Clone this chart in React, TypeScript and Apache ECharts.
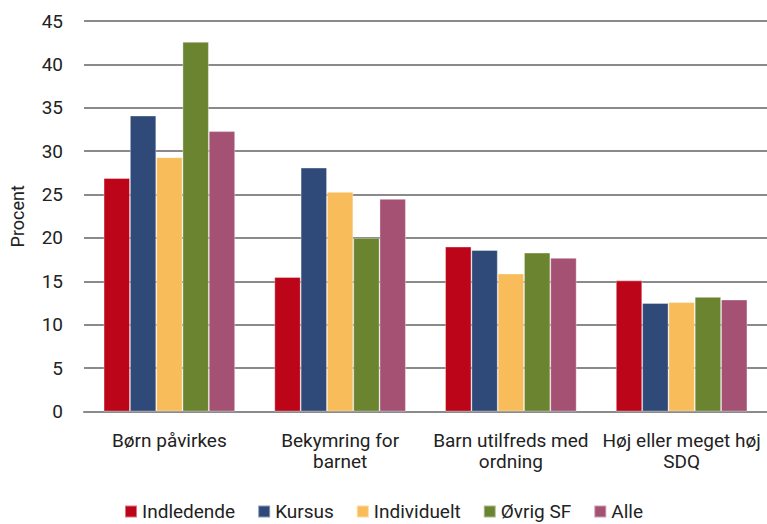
import React, { useEffect, useRef } from "react";
import * as echarts from "echarts";

const categories = [
  "Børn påvirkes",
  "Bekymring for\nbarnet",
  "Barn utilfreds med\nordning",
  "Høj eller meget høj\nSDQ",
];
const seriesNames = ["Indledende", "Kursus", "Individuelt", "Øvrig SF", "Alle"];
const indledende = [26.9, 15.5, 19.0, 15.1];
const kursus = [34.1, 28.1, 18.6, 12.5];
const individuelt = [29.3, 25.3, 15.9, 12.6];
const oevrigSF = [42.6, 20.0, 18.3, 13.2];
const alle = [32.3, 24.5, 17.7, 12.9];
const colors = ["#BC0518", "#2F4978", "#F9BC5B", "#6B8430", "#A45174"];
const yTicks = { min: 0, max: 45, interval: 5 };

export default function App() {
  const ref = useRef<HTMLDivElement>(null);
  useEffect(() => {
    if (!ref.current) return;
    const chart = echarts.init(ref.current, null, { renderer: "svg" });
    const font = "Roboto, 'DejaVu Sans', sans-serif";
    const values = [indledende, kursus, individuelt, oevrigSF, alle];
    chart.setOption({
      animation: false,
      textStyle: { fontFamily: font },
      grid: { left: 80, right: 0, top: 21, bottom: 112.5, containLabel: false },
      legend: {
        top: 502,
        left: "center",
        padding: 0,
        itemWidth: 12,
        itemHeight: 12,
        itemGap: 22,
        icon: "rect",
        textStyle: { fontSize: 19, lineHeight: 19, color: "#222", fontFamily: font },
        data: seriesNames,
      },
      xAxis: {
        type: "category",
        data: categories,
        axisTick: { show: false },
        axisLine: { lineStyle: { color: "#8a8a8a", width: 2 } },
        axisLabel: {
          interval: 0,
          margin: 18,
          fontSize: 19,
          lineHeight: 21,
          color: "#222",
          fontFamily: font,
        },
      },
      yAxis: {
        type: "value",
        min: yTicks.min,
        max: yTicks.max,
        interval: yTicks.interval,
        name: "Procent",
        nameLocation: "middle",
        nameGap: 58,
        nameRotate: 90,
        nameTextStyle: { fontSize: 18, color: "#222", fontFamily: font },
        axisLine: { show: false },
        axisTick: { show: false },
        axisLabel: { fontSize: 19, color: "#222", margin: 21, fontFamily: font },
        splitLine: { lineStyle: { color: "#8a8a8a", width: 2 } },
      },
      series: seriesNames.map((name, i) => ({
        name,
        type: "bar",
        data: values[i],
        barGap: "0%",
        barCategoryGap: "23%",
        itemStyle: {
          color: colors[i],
          borderColor: "rgba(255,255,255,0.45)",
          borderWidth: 0.8,
        },
      })),
    });
    return () => chart.dispose();
  }, []);
  return <div ref={ref} style={{ width: 767, height: 524, position: "absolute", left: 0, top: 0 }} />;
}
